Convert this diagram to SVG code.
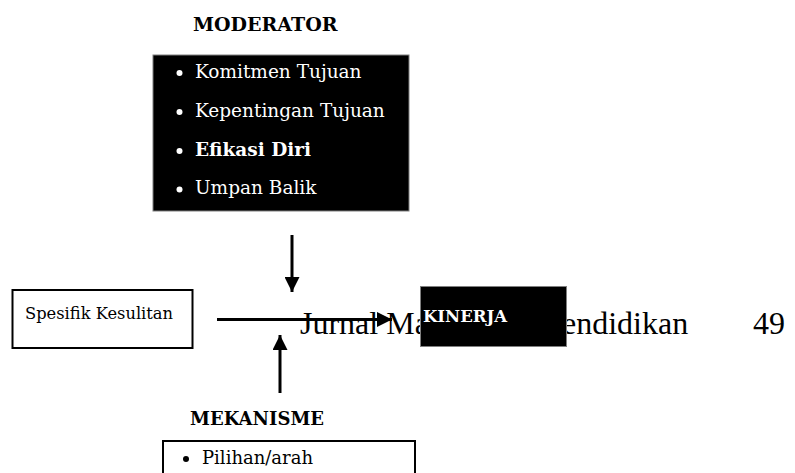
<svg xmlns="http://www.w3.org/2000/svg" width="795" height="473" viewBox="0 0 795 473">
<defs>
<style>
.lbl{font-family:"DejaVu Serif","Liberation Serif",serif;font-weight:bold;fill:#000}
.item{font-family:"DejaVu Serif","Liberation Serif",serif;font-size:18.5px;fill:#fff}
.dark{fill:#000;stroke:#7f7f7f;stroke-width:1}
.light{fill:#fff;stroke:#000;stroke-width:2}
.hdr{font-family:"Liberation Serif","Times New Roman",serif;font-size:32px;fill:#000}
.conn{stroke:#000;stroke-width:3;fill:none}
</style>
<marker id="ah" viewBox="0 0 10 10" refX="10" refY="5" markerWidth="5" markerHeight="5" markerUnits="strokeWidth" orient="auto">
<path d="M0,0 L10,5 L0,10 Z" fill="#000"/>
</marker>
</defs>
<rect width="795" height="473" fill="#fff"/>

<g id="page-header">
<text class="hdr" x="300" y="334">Jurnal Ma</text>
<text class="hdr" x="562" y="334">endidikan</text>
<text class="hdr" x="753" y="334">49</text>
</g>

<g id="moderator">
<text class="lbl" x="193" y="31" font-size="19px">MODERATOR</text>
<rect class="dark" x="153" y="55" width="256" height="156"/>
<g fill="#fff">
<circle cx="179.5" cy="73" r="3"/>
<circle cx="179.5" cy="112" r="3"/>
<circle cx="179.5" cy="151" r="3"/>
<circle cx="179.5" cy="189.5" r="3"/>
</g>
<text class="item" x="195" y="77.5">Komitmen Tujuan</text>
<text class="item" x="195" y="116.5">Kepentingan Tujuan</text>
<text class="item" x="195" y="155.5" font-weight="bold">Efikasi Diri</text>
<text class="item" x="195" y="194">Umpan Balik</text>
</g>

<g id="spesifik-kesulitan">
<rect class="light" x="12.5" y="290" width="180" height="58"/>
<text x="25" y="319" font-family="DejaVu Serif, Liberation Serif, serif" font-size="16.3px" fill="#000">Spesifik Kesulitan</text>
</g>

<g id="connectors">
<line class="conn" x1="217" y1="319.5" x2="392" y2="319.5" marker-end="url(#ah)"/>
<line class="conn" x1="292" y1="235" x2="292" y2="292" marker-end="url(#ah)"/>
<line class="conn" x1="280" y1="393" x2="280" y2="335" marker-end="url(#ah)"/>
</g>

<g id="kinerja">
<rect class="dark" x="420.5" y="286.5" width="146" height="60"/>
<text x="423" y="321.5" font-family="DejaVu Serif, Liberation Serif, serif" font-size="16.5px" font-weight="bold" fill="#fff">KINERJA</text>
</g>

<g id="mekanisme">
<text class="lbl" x="190" y="425" font-size="18px">MEKANISME</text>
<rect class="light" x="163" y="441" width="252" height="60"/>
<circle cx="186" cy="459" r="3" fill="#000"/>
<text x="202" y="463.5" font-family="DejaVu Serif, Liberation Serif, serif" font-size="18px" fill="#000">Pilihan/arah</text>
</g>
</svg>
